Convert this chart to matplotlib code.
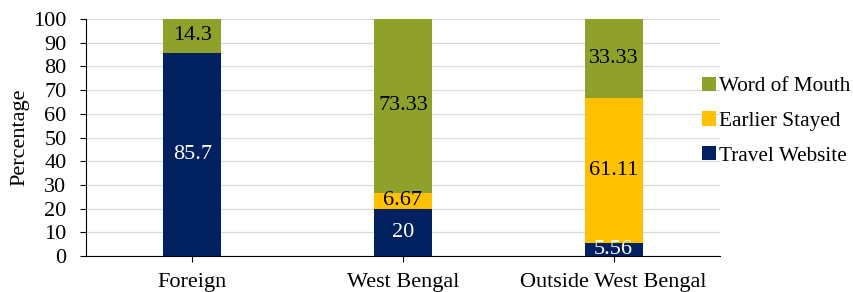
import matplotlib
matplotlib.use("Agg")
import matplotlib.pyplot as plt
import numpy as np

plt.rcParams["font.family"] = ["Liberation Serif", "DejaVu Serif"]

categories = ["Foreign", "West Bengal", "Outside West Bengal"]
travel_website = [85.7, 20, 5.56]
earlier_stayed = [0, 6.67, 61.11]
word_of_mouth = [14.3, 73.33, 33.33]

travel_labels = ["85.7", "20", "5.56"]
earlier_labels = ["", "6.67", "61.11"]
word_labels = ["14.3", "73.33", "33.33"]

fs = 16

fig = plt.figure(figsize=(8.54, 2.92), dpi=100)
ax = fig.add_axes([0.1007, 0.123, 0.7423, 0.812])

x = np.arange(len(categories))
w = 0.275
tw = np.array(travel_website)
es = np.array(earlier_stayed)
wm = np.array(word_of_mouth)

b1 = ax.bar(x, tw, w, color="#002060", label="Travel Website", zorder=3)
b2 = ax.bar(x, es, w, bottom=tw, color="#FFC000", label="Earlier Stayed", zorder=3)
b3 = ax.bar(x, wm, w, bottom=tw + es, color="#8FA12B", label="Word of Mouth", zorder=3)

ax.bar_label(b1, labels=travel_labels, label_type="center", color="white", fontsize=fs)
ax.bar_label(b2, labels=earlier_labels, label_type="center", color="black", fontsize=fs)
ax.bar_label(b3, labels=word_labels, label_type="center", color="black", fontsize=fs)

ax.set_xlim(-0.505, 2.505)
ax.set_ylim(0, 100)
ax.set_yticks(range(0, 101, 10))
ax.set_xticks(x)
ax.set_xticklabels(categories)
ax.tick_params(axis="both", labelsize=fs, length=4.5, width=0.8, direction="out")
ax.tick_params(axis="x", pad=8)
ax.tick_params(axis="y", pad=9.5)
ax.set_ylabel("Percentage", fontsize=fs, labelpad=3)
ax.yaxis.grid(True, color="#D9D9D9", linewidth=0.9, zorder=0)
ax.set_axisbelow(True)
for s in ["top", "right"]:
    ax.spines[s].set_visible(False)

h, l = ax.get_legend_handles_labels()
fig.legend(h[::-1], l[::-1], loc="center left", bbox_to_anchor=(0.805, 0.585),
           frameon=False, fontsize=15.3, handlelength=0.65, handleheight=0.65,
           handletextpad=0.12, labelspacing=0.72, borderpad=0.2)

fig.savefig("out.png", dpi=100)
